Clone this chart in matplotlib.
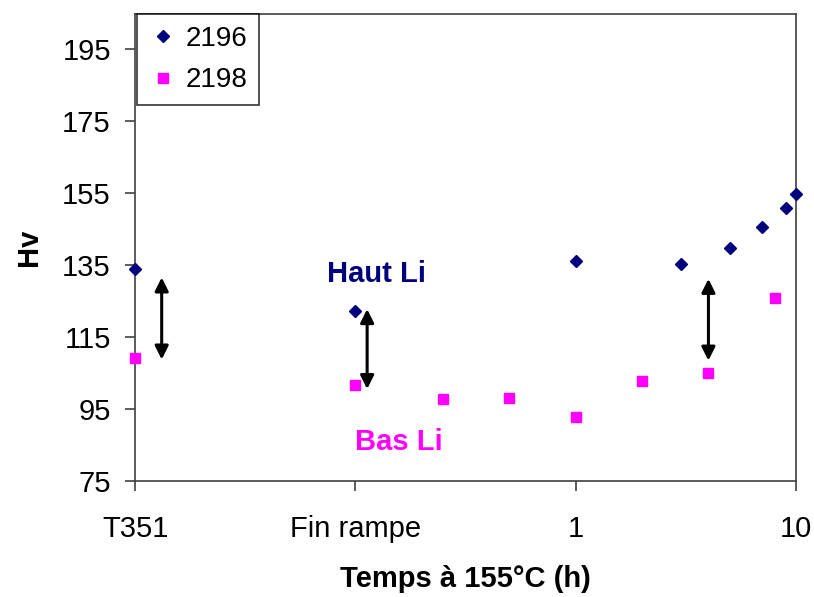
import matplotlib.pyplot as plt

plt.rcParams['font.family'] = ['Liberation Sans', 'DejaVu Sans']

# time at 155 C (h); T351 -> 0.01, Fin rampe -> 0.1 on the log axis
t_2196 = [0.01, 0.1, 1, 3, 5, 7, 9, 10]
hv_2196 = [134.0, 122.4, 136.3, 135.4, 139.9, 145.7, 151.0, 154.9]

t_2198 = [0.01, 0.1, 0.25, 0.5, 1, 2, 4, 8]
hv_2198 = [109.3, 101.8, 97.9, 98.2, 92.9, 102.9, 105.1, 125.9]

tick_pos = [0.01, 0.1, 1, 10]
tick_labels = ["T351", "Fin rampe", "1", "10"]

# double arrows showing the gap between high and low Li
arrow_x = [0.0132, 0.113, 4.0]
arrow_top = [131.6, 122.8, 131.2]
arrow_bot = [108.8, 100.6, 108.5]

navy = "#00007F"
magenta = "#FF00FF"
fs = 21

fig = plt.figure(figsize=(8.14, 5.97), dpi=100)
ax = fig.add_axes([0.166, 0.194, 0.812, 0.782])

ax.plot(t_2196, hv_2196, linestyle="none", marker="D", markersize=6,
        color=navy, label="2196", clip_on=False, zorder=3)
ax.plot(t_2198, hv_2198, linestyle="none", marker="s", markersize=7,
        color=magenta, label="2198", clip_on=False, zorder=3)

for x, y1, y2 in zip(arrow_x, arrow_top, arrow_bot):
    ax.annotate("", xy=(x, y1), xytext=(x, y2),
                arrowprops=dict(arrowstyle="<|-|>", color="black", lw=2.2,
                                mutation_scale=20, shrinkA=0, shrinkB=0))

ax.text(0.125, 132.5, "Haut Li", color=navy, fontsize=fs, fontweight="bold",
        ha="center", va="center")
ax.text(0.157, 85.8, "Bas Li", color=magenta, fontsize=fs, fontweight="bold",
        ha="center", va="center")

ax.set_xscale("log")
ax.set_xlim(0.01, 10)
ax.set_ylim(75, 204.7)
ax.set_xticks(tick_pos)
ax.set_xticklabels(tick_labels)
ax.minorticks_off()
ax.set_yticks(range(75, 196, 20))

ax.tick_params(axis="both", direction="out", length=7.5, width=1.2,
               labelsize=fs, color="#404040")
ax.tick_params(axis="x", pad=17)
ax.tick_params(axis="y", pad=10)
for s in ax.spines.values():
    s.set_color("#404040")
    s.set_linewidth(1.2)

ax.set_xlabel("Temps à 155°C (h)", fontsize=fs, fontweight="bold", labelpad=16)
ax.set_ylabel("Hv", fontsize=fs, fontweight="bold", labelpad=14)

leg = ax.legend(loc="upper left", bbox_to_anchor=(0.003, 1.0), fontsize=20,
                frameon=True, fancybox=False, borderaxespad=0,
                handletextpad=0.32, handlelength=1.0,
                borderpad=0.42, labelspacing=0.55)
leg.get_frame().set_edgecolor("black")
leg.get_frame().set_linewidth(1.2)

fig.savefig("out.png", dpi=100)
